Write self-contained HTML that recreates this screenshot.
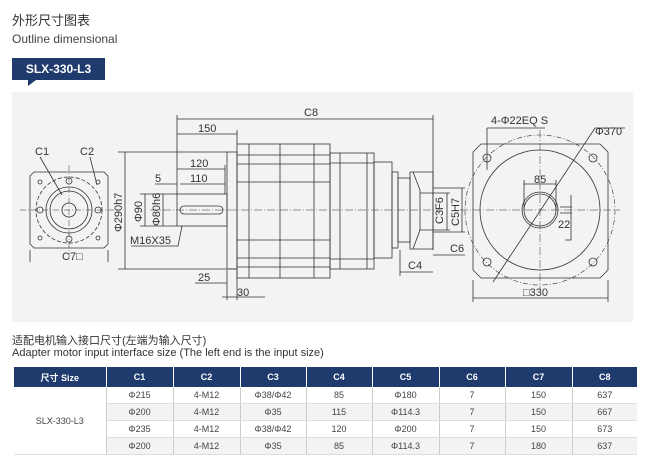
<!DOCTYPE html>
<html><head><meta charset="utf-8"><style>
body{margin:0;width:649px;height:468px;background:#fff;position:relative;overflow:hidden;font-family:"Liberation Sans","Noto Sans CJK SC",sans-serif;color:#333}
.t1{position:absolute;left:12px;top:10px;font-size:13px;color:#333}
.t2{position:absolute;left:12px;top:32px;font-size:12px;color:#444}
.badge{position:absolute;left:12px;top:58px;width:93px;height:22px;background:#1f3a6d;color:#fff;font-weight:bold;font-size:12px;text-align:center;line-height:22px}
.tail{position:absolute;left:28px;top:80px;width:0;height:0;border-left:0 solid transparent;border-right:8px solid transparent;border-top:6px solid #1f3a6d}
.t3{position:absolute;left:12px;top:332px;font-size:11px;color:#333}
.t4{position:absolute;left:12px;top:347px;font-size:11px;color:#333}
table{position:absolute;left:14px;top:367px;width:623px;table-layout:fixed;border-collapse:collapse;font-size:9px;color:#444}
th,td{padding:0}
th{background:#1f3a6d;color:#fff;height:20px;font-weight:bold;font-size:9px;border-left:1px solid #fff}
td{height:16px;text-align:center;border-left:1px solid #ccc;border-bottom:1px solid #ddd}
tr.g td{background:#f3f3f5}
</style></head><body>
<div class="t1">外形尺寸图表</div>
<div class="t2">Outline dimensional</div>
<div class="badge">SLX-330-L3</div><div class="tail"></div>
<svg style="position:absolute;left:0;top:0" width="649" height="330" font-family="Liberation Sans" font-size="10" fill="#333">
<rect x="12" y="92" width="621" height="230" fill="#f3f3f5"/>
<g stroke="#333" fill="none" stroke-width="0.8">
<path d="M34 172 H104 L108 176 V244 L104 248 H34 L30 244 V176 Z"/>
<circle cx="69" cy="210" r="33" stroke-dasharray="4 2"/>
<circle cx="69" cy="210" r="23"/><circle cx="69" cy="210" r="19"/><circle cx="69" cy="210" r="7"/>
<circle cx="69" cy="181" r="3"/><circle cx="69" cy="239" r="3"/><circle cx="40" cy="210" r="3"/><circle cx="98" cy="210" r="3"/>
<circle cx="40" cy="182" r="2"/><circle cx="98" cy="182" r="2"/><circle cx="40" cy="238" r="2"/><circle cx="98" cy="238" r="2"/>
<path d="M20 210 H118 M69 165 V258" stroke-dasharray="6 2 1 2" stroke-width="0.5"/>
<path d="M40 157 L62 195 M90 157 L97 185 M30 250 V262 M108 250 V262"/>
<path d="M177 119 H433 M177 115 V195 M433 115 V250 M177 134 H237 M237 130 V144"/>
<rect x="237" y="144" width="93" height="134"/>
<path d="M249 144 V278 M280 144 V278 M314 144 V278 M237 155 H330 M237 164 H330 M237 182 H330 M237 240 H330 M237 258 H330 M237 267 H330"/>
<rect x="227" y="152" width="10" height="117"/>
<rect x="330" y="153" width="44" height="116"/>
<path d="M340 153 V269 M367 153 V269 M330 163 H374 M330 259 H374"/>
<rect x="374" y="162" width="18" height="96"/>
<rect x="392" y="172" width="6" height="76"/>
<rect x="398" y="178" width="12" height="64"/>
<path d="M410 172 H433 V249 H410 Z M413 172 L420 190 V230 L413 249"/>
<rect x="177" y="194" width="50" height="32"/>
<rect x="180" y="206" width="43" height="8" rx="4"/>
<path d="M150 210 H440" stroke-dasharray="8 2 1 2" stroke-width="0.5"/>
<path d="M118 152 H227 M118 269 H237 M125 152 V269 M140 194 H177 M140 226 H177 M145 194 V226 M163 194 V226"/>
<path d="M177 169 H225 M180 184 H225 M155 184 H177 M225 165 V194"/>
<path d="M131 246 H178 L182 226 M195 283 H227 M227 270 V300 M237 270 V300 M222 297 H265"/>
<path d="M400 272 H433 M400 250 V276 M433 255 H465 M447 193 V230 M462 188 V232 M420 193 H450 M420 230 H450 M433 188 H465 M433 232 H465"/>
<path d="M481 144 H600 L608 152 V270 L600 278 H481 L473 270 V152 Z"/>
<circle cx="540" cy="210" r="75" stroke-dasharray="5 2 1 2" stroke-width="0.6"/>
<circle cx="540" cy="210" r="60"/><circle cx="540" cy="210" r="18"/><circle cx="540" cy="210" r="16"/>
<circle cx="487" cy="158" r="4"/><circle cx="593" cy="158" r="4"/><circle cx="487" cy="262" r="4"/><circle cx="593" cy="262" r="4"/>
<path d="M460 210 H620 M540 130 V290" stroke-dasharray="8 2 1 2" stroke-width="0.5"/>
<path d="M493 282 L595 128 H625 M487 128 H545 M487 128 V170 M524 184 H556 M524 180 V210 M556 180 V210 M560 207 H572 M560 213 H572 M571 195 V240 H565"/>
<path d="M473 280 V302 M608 280 V302 M473 298 H608"/>
</g>
<g font-size="11">
<text x="304" y="116">C8</text><text x="198" y="132">150</text><text x="190" y="167">120</text><text x="190" y="182">110</text><text x="155" y="182">5</text>
<text x="130" y="244">M16X35</text><text x="198" y="281">25</text><text x="237" y="296">30</text>
<text x="408" y="269">C4</text><text x="450" y="252">C6</text>
<text transform="translate(122,232) rotate(-90)">Φ290h7</text>
<text transform="translate(142,222) rotate(-90)">Φ90</text>
<text transform="translate(160,226) rotate(-90)">Φ80h6</text>
<text transform="translate(443,224) rotate(-90)">C3F6</text>
<text transform="translate(459,226) rotate(-90)">C5H7</text>
<text x="491" y="124">4-Φ22EQ S</text><text x="595" y="135">Φ370</text>
<text x="534" y="183">85</text><text x="558" y="228">22</text><text x="523" y="296">□330</text>
<text x="35" y="155">C1</text><text x="80" y="155">C2</text><text x="62" y="260">C7□</text>
</g>
</svg>
<div class="t3">适配电机输入接口尺寸(左端为输入尺寸)</div>
<div class="t4">Adapter motor input interface size (The left end is the input size)</div>
<table>
<colgroup><col style="width:92px"><col style="width:67px"><col style="width:67px"><col style="width:66px"><col style="width:66px"><col style="width:67px"><col style="width:66px"><col style="width:67px"><col style="width:65px"></colgroup>
<tr><th style="border-left:0">尺寸 Size</th><th>C1</th><th>C2</th><th>C3</th><th>C4</th><th>C5</th><th>C6</th><th>C7</th><th>C8</th></tr>
<tr><td rowspan="4" style="border-left:0;background:#fff">SLX-330-L3</td><td>Φ215</td><td>4-M12</td><td>Φ38/Φ42</td><td>85</td><td>Φ180</td><td>7</td><td>150</td><td>637</td></tr>
<tr class="g"><td>Φ200</td><td>4-M12</td><td>Φ35</td><td>115</td><td>Φ114.3</td><td>7</td><td>150</td><td>667</td></tr>
<tr><td>Φ235</td><td>4-M12</td><td>Φ38/Φ42</td><td>120</td><td>Φ200</td><td>7</td><td>150</td><td>673</td></tr>
<tr class="g"><td>Φ200</td><td>4-M12</td><td>Φ35</td><td>85</td><td>Φ114.3</td><td>7</td><td>180</td><td>637</td></tr>
</table>
</body></html>
